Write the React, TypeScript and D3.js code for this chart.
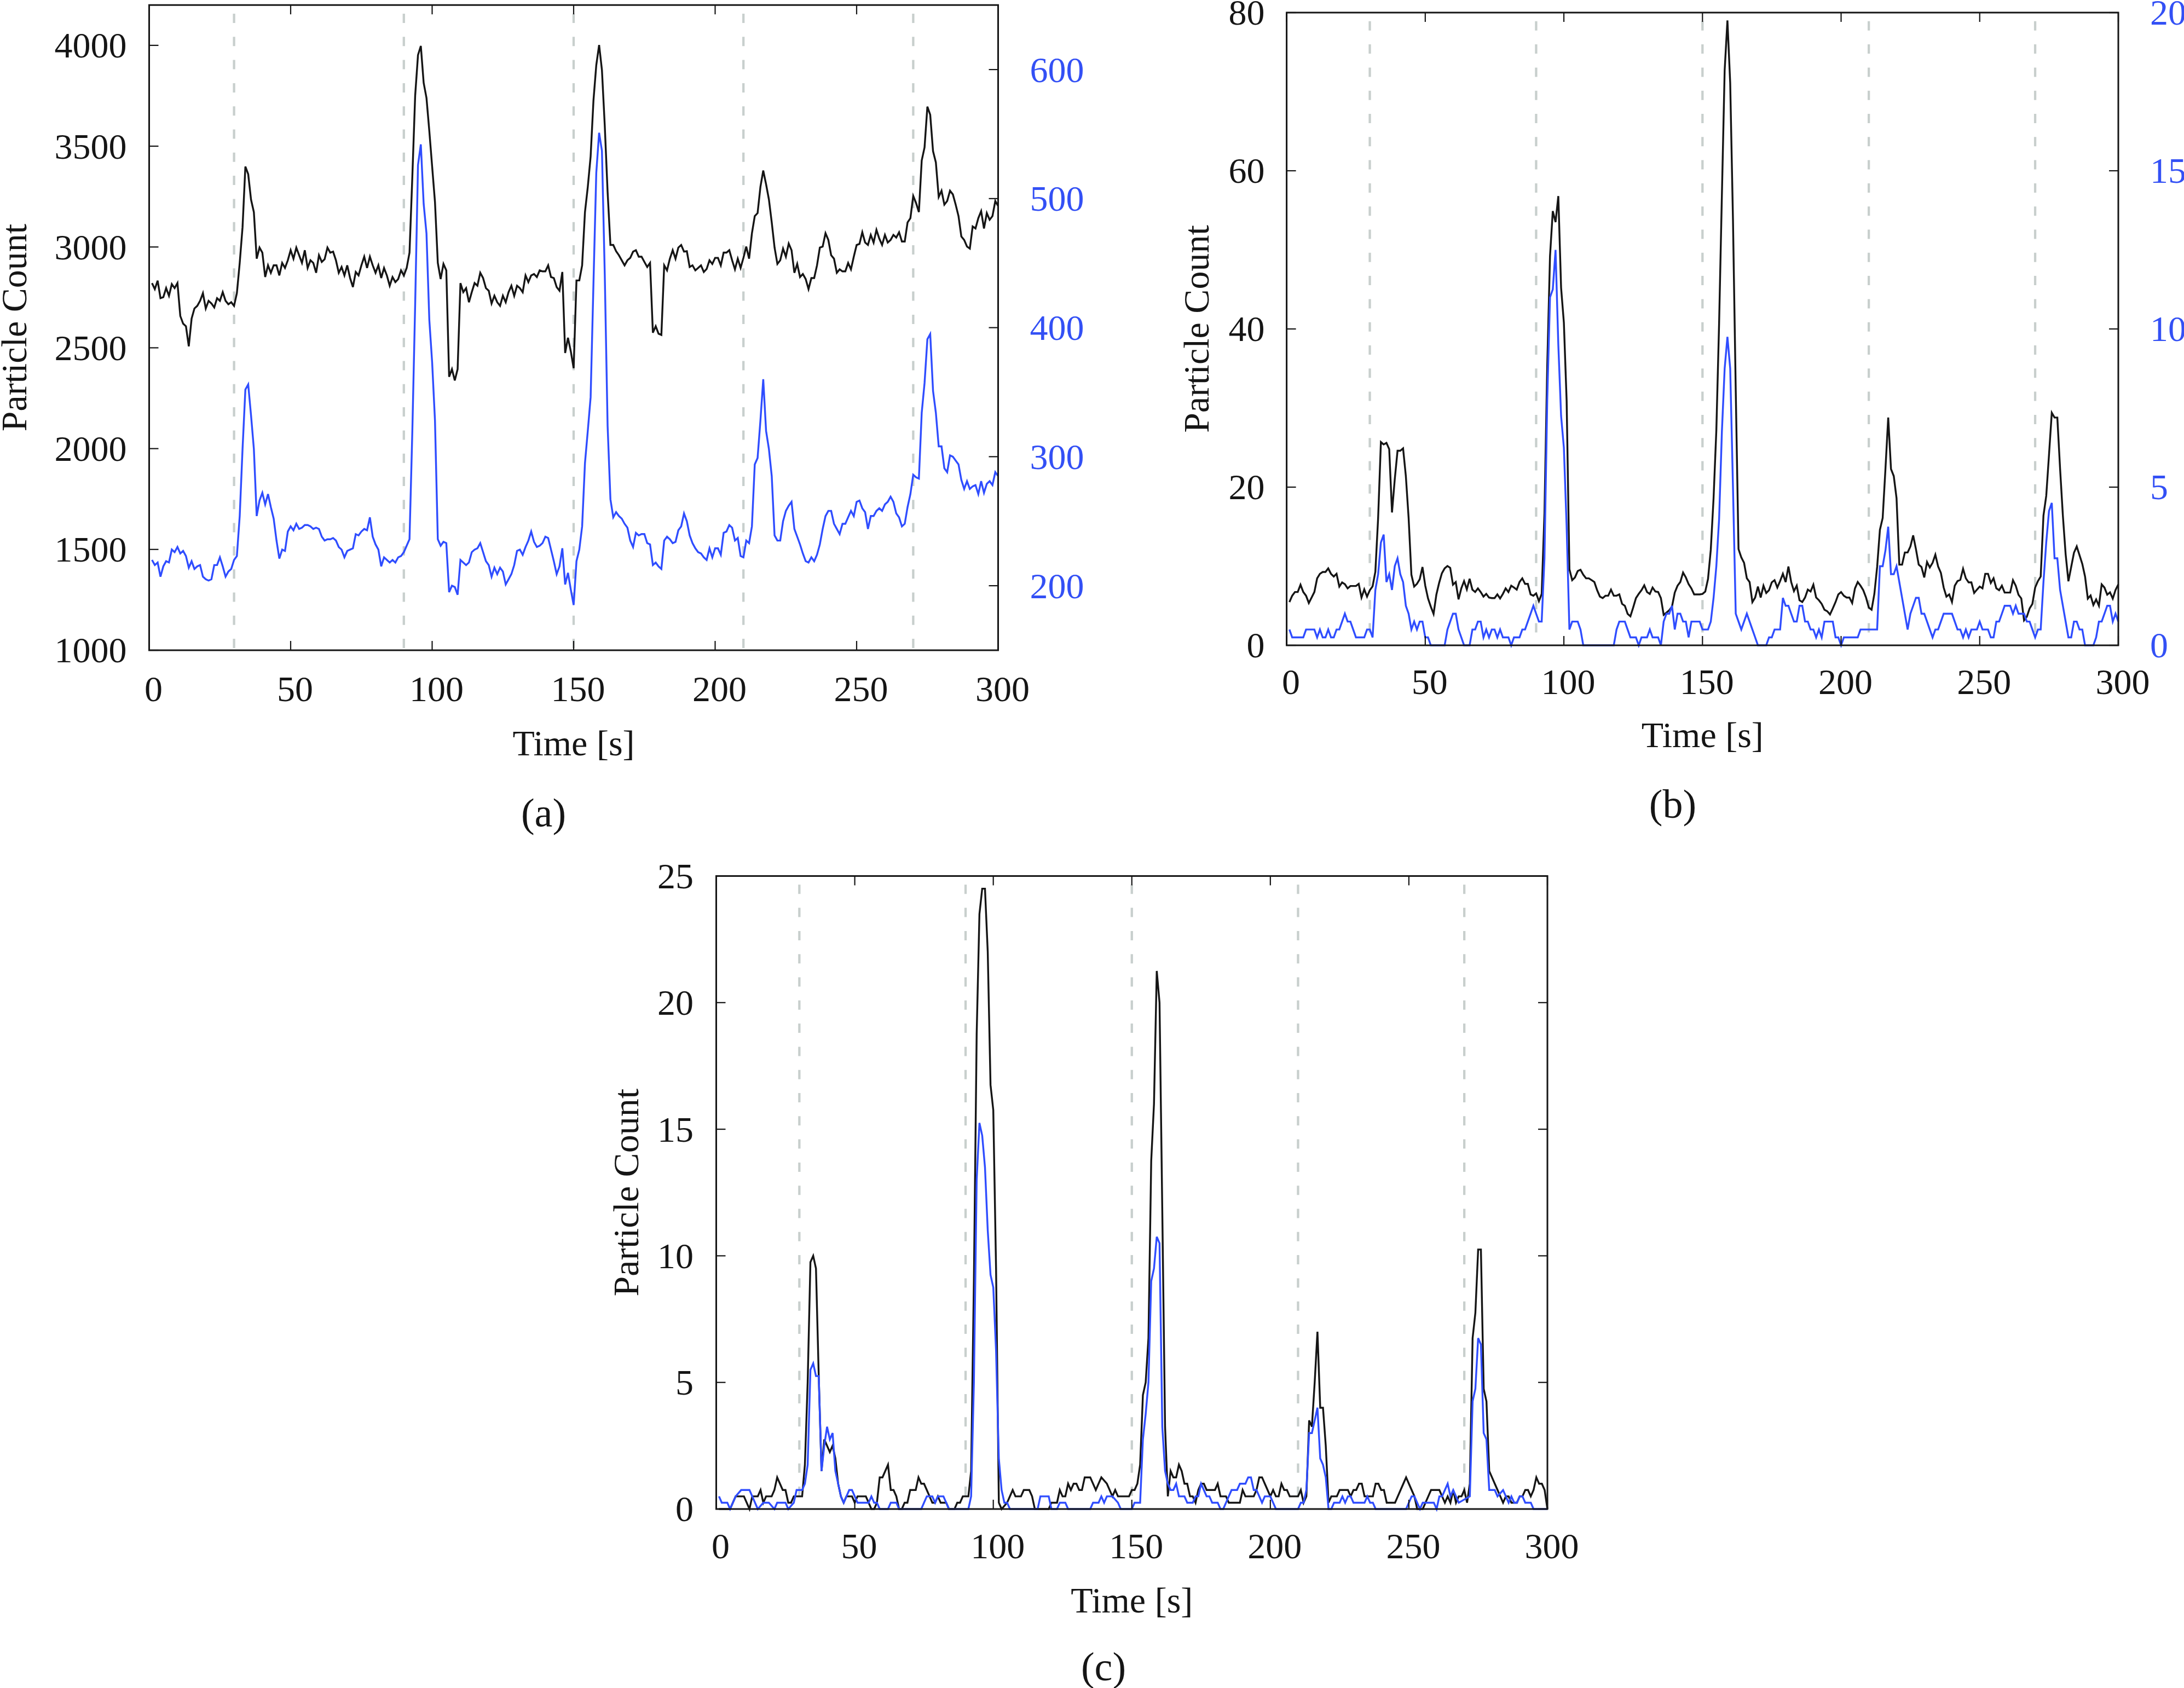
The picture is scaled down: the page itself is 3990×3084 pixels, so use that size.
import React from "react";
import * as d3 from "d3";

const W = 3990;
const H = 3084;
const BLACK = "#151515";
const BLUE = "#2f4dff";
const BLUE_TEXT = "#3350f5";
const DASH = "#c8cfcd";
const FONT = "'Liberation Serif', 'Times New Roman', Times, serif";

// ---------- shared ----------
const timeTicks = [0, 50, 100, 150, 200, 250, 300];
const stimulusTimes = [30, 90, 150, 210, 270];

// ---------- panel (a): one sample per second, t = 1..300 ----------
const aLeftTicks = [1000, 1500, 2000, 2500, 3000, 3500, 4000];
const aRightTicks = [200, 300, 400, 500, 600];
const aStart = 1;
const aBlack = [
  2821, 2791, 2833, 2746, 2751, 2796, 2758, 2816, 2796, 2821,
  2658, 2620, 2607, 2507, 2645, 2695, 2708, 2733, 2771, 2695,
  2733, 2720, 2700, 2746, 2733, 2776, 2733, 2716, 2726, 2708,
  2771, 2921, 3098, 3399, 3361, 3235, 3173, 2942, 2997, 2972,
  2851, 2909, 2872, 2909, 2909, 2859, 2921, 2896, 2934, 2984,
  2942, 2997, 2959, 2921, 2984, 2896, 2934, 2921, 2872, 2959,
  2926, 2939, 2997, 2972, 2977, 2934, 2872, 2901, 2859, 2909,
  2846, 2801, 2876, 2859, 2909, 2952, 2896, 2952, 2909, 2872,
  2909, 2846, 2896, 2859, 2808, 2851, 2826, 2841, 2884, 2859,
  2896, 2972, 3349, 3751, 3952, 3997, 3814, 3739, 3575, 3399,
  3223, 2921, 2841, 2916, 2884, 2356, 2394, 2338, 2394, 2821,
  2776, 2796, 2726, 2776, 2821, 2808, 2872, 2846, 2796, 2783,
  2720, 2758, 2726, 2708, 2758, 2726, 2776, 2808, 2758, 2808,
  2796, 2776, 2859, 2826, 2859, 2866, 2851, 2884, 2879, 2879,
  2909, 2851, 2846, 2801, 2783, 2876, 2474, 2550, 2482, 2399,
  2834, 2834, 2909, 3173, 3298, 3449, 3726, 3902, 4002, 3877,
  3601, 3273, 3010, 3010, 2979, 2959, 2934, 2909, 2934, 2946,
  2977, 2984, 2952, 2952, 2926, 2901, 2921, 2575, 2607, 2570,
  2564, 2909, 2884, 2942, 2984, 2942, 2997, 3010, 2977, 2979,
  2901, 2909, 2884, 2896, 2909, 2876, 2891, 2934, 2916, 2946,
  2946, 2909, 2972, 2972, 2984, 2934, 2889, 2942, 2896, 2946,
  3002, 2942, 3068, 3153, 3168, 3298, 3379, 3311, 3236, 3122,
  2997, 2916, 2934, 2992, 2952, 3017, 2984, 2872, 2916, 2851,
  2866, 2841, 2791, 2846, 2846, 2909, 2997, 3002, 3068, 3035,
  2959, 2942, 2872, 2889, 2879, 2879, 2921, 2889, 2952, 3010,
  3015, 3073, 3022, 3010, 3060, 3022, 3085, 3042, 3010, 3060,
  3022, 3035, 3060, 3047, 3073, 3027, 3027, 3122, 3143, 3253,
  3218, 3173, 3429, 3494, 3696, 3656, 3475, 3419, 3248, 3279,
  3210, 3228, 3279, 3261, 3210, 3153, 3052, 3035, 3002, 2992,
  3102, 3092, 3143, 3178, 3092, 3168, 3135, 3153, 3228, 3203,
];
const aBlue = [
  220, 216, 218, 207, 215, 219, 218, 228, 226, 230,
  225, 227, 223, 214, 219, 213, 215, 216, 207, 205,
  204, 205, 216, 216, 222, 215, 207, 211, 213, 220,
  223, 254, 306, 352, 356, 332, 306, 254, 266, 272,
  263, 271, 261, 252, 235, 221, 228, 227, 242, 246,
  243, 248, 244, 245, 247, 247, 246, 244, 245, 244,
  238, 235, 236, 236, 237, 235, 230, 228, 222, 227,
  228, 229, 240, 239, 242, 244, 243, 253, 238, 232,
  228, 215, 222, 220, 218, 220, 218, 222, 223, 226,
  231, 236, 320, 418, 526, 542, 496, 473, 406, 373,
  328, 236, 231, 234, 233, 195, 200, 199, 193, 220,
  218, 216, 218, 226, 228, 229, 233, 226, 219, 216,
  207, 214, 209, 214, 211, 201, 205, 209, 216, 227,
  228, 224, 230, 235, 242, 234, 230, 231, 233, 238,
  237, 228, 219, 209, 215, 229, 201, 210, 197, 185,
  219, 228, 246, 295, 320, 346, 434, 520, 551, 537,
  441, 324, 267, 253, 257, 254, 252, 248, 245, 235,
  230, 241, 239, 240, 240, 233, 232, 216, 218, 215,
  213, 235, 238, 236, 233, 234, 243, 246, 256, 250,
  239, 233, 229, 226, 225, 222, 220, 229, 222, 229,
  229, 224, 241, 242, 247, 245, 235, 237, 223, 222,
  235, 233, 246, 294, 299, 328, 360, 320, 306, 285,
  239, 235, 235, 250, 258, 262, 265, 244, 238, 232,
  225, 219, 218, 222, 219, 224, 232, 244, 254, 258,
  258, 248, 244, 240, 248, 248, 253, 258, 254, 265,
  266, 260, 257, 244, 254, 254, 258, 260, 258, 263,
  265, 269, 265, 256, 253, 246, 248, 261, 271, 286,
  284, 283, 334, 357, 391, 395, 351, 334, 308, 308,
  291, 288, 301, 300, 297, 294, 282, 275, 281, 275,
  277, 278, 271, 281, 272, 279, 281, 278, 288, 285,
];

// ---------- panel (b) ----------
const bLeftTicks = [0, 20, 40, 60, 80];
const bRightTicks = [0, 5, 10, 15, 20];
const bStart = 1;
const bBlack = [
  5.47, 6.27, 6.74, 6.74, 7.66, 6.74, 6.27, 5.35, 6.04, 6.74,
  8.47, 9.04, 9.27, 9.27, 9.73, 9.04, 8.7, 9.04, 7.43, 7.96,
  7.73, 7.2, 7.5, 7.5, 7.5, 7.77, 6.04, 7.08, 6.16, 6.97,
  7.45, 9.3, 16.1, 25.7, 25.4, 25.6, 24.8, 16.8, 21.0, 24.6,
  24.6, 24.9, 21.4, 16.1, 8.93, 7.43, 7.77, 8.35, 9.9, 7.54,
  5.93, 4.89, 3.97, 6.39, 7.89, 9.11, 9.73, 10.03, 9.8, 7.66,
  8.0, 5.81, 7.2, 8.12, 7.08, 8.42, 7.04, 6.74, 7.2, 6.74,
  6.16, 6.5, 6.04, 5.97, 5.97, 6.44, 5.93, 6.5, 7.2, 6.74,
  7.54, 7.31, 7.04, 8.0, 8.47, 7.77, 7.77, 6.44, 6.27, 6.57,
  5.58, 6.5, 16.7, 35.3, 49.2, 54.9, 53.5, 56.8, 45.2, 40.8,
  30.9, 9.62, 8.24, 8.58, 9.39, 9.55, 8.93, 8.47, 8.47, 8.24,
  8.0, 6.97, 6.16, 5.97, 6.27, 6.27, 7.04, 6.27, 6.27, 6.44,
  5.24, 5.0, 3.97, 3.67, 4.78, 5.97, 6.5, 6.97, 7.59, 6.74,
  6.5, 7.31, 6.8, 6.74, 5.97, 3.85, 4.13, 4.43, 4.89, 6.67,
  7.54, 8.0, 9.2, 8.58, 7.73, 7.2, 6.44, 6.44, 6.44, 6.5,
  6.8, 8.4, 12.1, 18.6, 27.2, 40.8, 56.9, 72.7, 79.0, 71.1,
  53.8, 32.2, 12.16, 11.12, 10.43, 8.47, 8.0, 5.47, 6.04, 7.43,
  6.04, 7.54, 6.62, 6.97, 7.96, 8.24, 7.31, 8.12, 9.04, 8.0,
  9.97, 8.0, 6.85, 7.54, 5.7, 5.47, 6.04, 7.04, 6.8, 7.66,
  6.04, 5.7, 5.24, 4.5, 4.31, 3.9, 4.66, 5.47, 6.44, 6.74,
  6.27, 6.04, 6.04, 5.35, 7.2, 8.0, 7.54, 6.97, 6.04, 4.78,
  4.5, 6.5, 9.9, 14.6, 16.1, 22.3, 28.8, 22.3, 21.4, 18.6,
  10.2, 10.2, 11.74, 11.74, 12.5, 13.9, 12.16, 10.2, 9.9, 8.58,
  10.54, 9.85, 10.43, 11.46, 9.97, 9.16, 7.31, 6.16, 6.44, 5.47,
  7.54, 8.12, 8.28, 9.67, 8.47, 7.96, 7.96, 6.62, 7.04, 7.43,
  7.2, 9.04, 9.04, 7.89, 8.47, 7.2, 6.97, 7.54, 6.67, 6.67,
  6.67, 8.24, 7.54, 6.39, 5.93, 3.16, 3.62, 4.66, 5.24, 7.31,
  8.12, 8.7, 16.4, 18.9, 24.1, 29.4, 28.8, 28.8, 22.3, 16.4,
  11.5, 8.1, 9.9, 11.7, 12.5, 11.4, 10.3, 8.7, 5.9, 6.3,
  5.1, 5.8, 5.0, 7.7, 7.3, 6.4, 6.7, 5.9, 7.0, 7.7,
];
// polyline vertices [time, count]
const bBlue: [number, number][] = [
  [1, 0.5], [2, 0.25], [6, 0.25], [7, 0.5], [10, 0.5], [11, 0.25], [12, 0.5], [13, 0.25], [14, 0.25], [15, 0.5],
  [16, 0.25], [17, 0.25], [18, 0.5], [19, 0.5], [20, 0.75], [21, 1.0], [22, 0.75], [23, 0.75], [24, 0.5], [25, 0.25],
  [28, 0.25], [29, 0.5], [30, 0.5], [31, 0.25], [32, 1.75], [33, 2.25], [34, 3.25], [35, 3.5], [36, 2.0], [37, 2.25],
  [38, 1.75], [39, 2.5], [40, 2.75], [41, 2.25], [42, 2.0], [43, 1.25], [44, 1.0], [45, 0.5], [46, 0.75], [47, 0.5],
  [48, 0.75], [49, 0.75], [50, 0.25], [51, 0.25], [52, 0], [57, 0], [58, 0.5], [59, 0.75], [60, 1.0], [61, 1.0],
  [62, 0.5], [63, 0.25], [64, 0], [66, 0], [67, 0.5], [68, 0.5], [69, 0.75], [70, 0.75], [71, 0.25], [72, 0.5],
  [73, 0.25], [74, 0.5], [75, 0.5], [76, 0.25], [77, 0.5], [78, 0.25], [80, 0.25], [81, 0], [82, 0.25], [84, 0.25],
  [85, 0.5], [86, 0.5], [87, 0.75], [88, 1.0], [89, 1.25], [90, 1.0], [91, 0.75], [92, 0.75], [93, 2.75], [94, 7.75],
  [95, 11.0], [96, 11.25], [97, 12.5], [98, 9.5], [99, 7.25], [100, 6.25], [101, 3.75], [102, 0.5], [103, 0.75], [105, 0.75],
  [106, 0.5], [107, 0], [118, 0], [119, 0.5], [120, 0.75], [122, 0.75], [123, 0.5], [124, 0.25], [126, 0.25], [127, 0],
  [128, 0.25], [130, 0.25], [131, 0.5], [132, 0.25], [134, 0.25], [135, 0], [136, 0.75], [137, 1.0], [138, 1.0], [139, 1.25],
  [140, 0.5], [141, 1.0], [142, 1.0], [143, 0.75], [144, 0.75], [145, 0.25], [146, 0.75], [149, 0.75], [150, 0.5], [152, 0.5],
  [153, 0.75], [154, 1.5], [155, 2.5], [156, 4.0], [157, 6.75], [158, 8.75], [159, 9.75], [160, 8.75], [161, 5.0], [162, 1.0],
  [163, 0.75], [164, 0.5], [165, 0.75], [166, 1.0], [167, 0.75], [168, 0.5], [169, 0.25], [170, 0], [173, 0], [174, 0.25],
  [175, 0.25], [176, 0.5], [178, 0.5], [179, 1.5], [180, 1.25], [181, 1.25], [182, 1.0], [183, 0.75], [184, 0.75], [185, 1.25],
  [186, 1.25], [187, 0.75], [188, 0.75], [189, 0.5], [190, 0.5], [191, 0.25], [192, 0.5], [193, 0.25], [194, 0.75], [197, 0.75],
  [198, 0.25], [199, 0.25], [200, 0], [201, 0.25], [206, 0.25], [207, 0.5], [213, 0.5], [214, 2.5], [215, 2.5], [216, 3.0],
  [217, 3.75], [218, 2.25], [219, 2.25], [220, 2.5], [221, 2.0], [222, 1.5], [223, 1.0], [224, 0.5], [225, 1.0], [226, 1.25],
  [227, 1.5], [228, 1.5], [229, 1.0], [230, 1.0], [231, 0.75], [232, 0.5], [233, 0.25], [234, 0.5], [235, 0.5], [236, 0.75],
  [237, 1.0], [240, 1.0], [241, 0.75], [242, 0.5], [243, 0.5], [244, 0.25], [245, 0.5], [246, 0.25], [247, 0.5], [249, 0.5],
  [250, 0.75], [251, 0.5], [253, 0.5], [254, 0.25], [255, 0.25], [256, 0.75], [257, 0.75], [258, 1.0], [259, 1.25], [261, 1.25],
  [262, 1.0], [263, 1.25], [264, 1.0], [266, 1.0], [267, 0.75], [268, 0.75], [269, 0.5], [270, 0.25], [271, 0.5], [272, 0.5],
  [273, 2.0], [274, 3.25], [275, 4.25], [276, 4.5], [277, 2.75], [278, 2.75], [279, 1.75], [280, 1.25], [281, 0.75], [282, 0.25],
  [283, 0.25], [284, 0.75], [285, 0.75], [286, 0.5], [287, 0.5], [288, 0], [291, 0], [292, 0.25], [293, 0.75], [294, 0.75],
  [295, 1.0], [296, 1.25], [297, 1.25], [298, 0.75], [299, 1.0], [300, 0.75],
];

// ---------- panel (c) ----------
const cTicks = [0, 5, 10, 15, 20, 25];
const cBlack: [number, number][] = [
  [1, 0], [5, 0], [7, 0.5], [10, 0.5], [12, 0], [13, 0.5], [15, 0.5], [16, 0.75], [17, 0.25], [18, 0.5],
  [20, 0.5], [21, 0.75], [22, 1.25], [24, 0.75], [25, 0.75], [26, 0.25], [27, 0.25], [28, 0.5], [31, 0.5], [32, 1.75],
  [33, 5.0], [34, 9.75], [35, 10.0], [36, 9.5], [37, 5.25], [38, 1.5], [39, 2.75], [40, 2.5], [41, 2.25], [42, 2.5],
  [43, 2.0], [44, 1.0], [45, 0.5], [46, 0.25], [47, 0.5], [49, 0.5], [50, 0.25], [51, 0.5], [54, 0.5], [55, 0.25],
  [56, 0], [57, 0], [58, 0.25], [59, 1.25], [60, 1.25], [62, 1.75], [63, 0.75], [64, 0.75], [65, 0.5], [66, 0],
  [67, 0], [68, 0.25], [69, 0.25], [70, 0.75], [72, 0.75], [73, 1.25], [74, 1.0], [75, 1.0], [76, 0.75], [77, 0.5],
  [78, 0.25], [79, 0.25], [80, 0.5], [81, 0.25], [83, 0.25], [84, 0], [86, 0], [87, 0.25], [88, 0.25], [89, 0.5],
  [91, 0.5], [92, 1.5], [93, 9.0], [94, 18.75], [95, 23.5], [96, 24.5], [97, 24.5], [98, 22.0], [99, 16.75], [100, 15.75],
  [101, 9.5], [102, 0.25], [103, 0], [105, 0.25], [107, 0.75], [108, 0.5], [110, 0.5], [111, 0.75], [113, 0.75], [114, 0.5],
  [115, 0], [120, 0], [121, 0.25], [123, 0.25], [124, 0.75], [125, 0.5], [126, 0.5], [127, 1.0], [128, 0.75], [129, 1.0],
  [130, 1.0], [131, 0.75], [132, 0.75], [133, 1.25], [135, 1.25], [137, 0.75], [139, 1.25], [141, 1.0], [143, 0.5], [144, 0.75],
  [145, 0.5], [149, 0.5], [150, 0.75], [151, 0.75], [152, 1.0], [153, 1.75], [154, 4.5], [155, 5.0], [156, 6.75], [157, 13.75],
  [158, 16.0], [159, 21.25], [160, 20.0], [161, 11.75], [162, 3.25], [163, 0.5], [164, 1.5], [165, 1.25], [166, 1.25], [167, 1.75],
  [168, 1.5], [169, 1.0], [170, 1.0], [171, 0.5], [172, 0.5], [173, 0.25], [174, 0.75], [175, 1.0], [176, 1.0], [177, 0.75],
  [180, 0.75], [181, 1.0], [182, 0.5], [184, 0.5], [185, 0.25], [189, 0.25], [190, 0.75], [191, 0.5], [194, 0.5], [195, 0.75],
  [196, 1.25], [197, 1.25], [198, 1.0], [199, 0.75], [200, 0.5], [201, 0.75], [202, 0.5], [203, 0.5], [204, 1.0], [205, 0.75],
  [206, 0.75], [207, 0.5], [210, 0.5], [211, 0.75], [212, 0.25], [213, 0.5], [214, 3.5], [215, 3.25], [216, 5.0], [217, 7.0],
  [218, 4.0], [219, 4.0], [220, 2.5], [221, 0.25], [222, 0.5], [224, 0.5], [225, 0.75], [228, 0.75], [229, 0.5], [230, 0.75],
  [231, 0.75], [232, 1.0], [233, 1.0], [234, 0.5], [237, 0.5], [238, 1.0], [239, 1.0], [240, 0.75], [241, 0.75], [242, 0.25],
  [245, 0.25], [246, 0.5], [247, 0.75], [248, 1.0], [249, 1.25], [250, 1.0], [251, 0.75], [252, 0.5], [253, 0], [255, 0],
  [256, 0.25], [257, 0.5], [258, 0.75], [261, 0.75], [262, 0.5], [263, 0.25], [264, 0.5], [265, 0.25], [266, 0.75], [267, 0.25],
  [268, 0.5], [269, 0.5], [270, 0.75], [271, 0.25], [272, 1.0], [273, 6.75], [274, 7.75], [275, 10.25], [276, 10.25], [277, 4.75],
  [278, 4.25], [279, 1.5], [280, 1.25], [281, 1.0], [282, 0.75], [283, 0.5], [284, 0.25], [285, 0.5], [286, 0.5], [287, 0.25],
  [289, 0.25], [290, 0.5], [291, 0.5], [292, 0.75], [293, 0.75], [294, 0.5], [295, 0.75], [296, 1.25], [297, 1.0], [298, 1.0],
  [299, 0.75], [300, 0],
];
const cBlue: [number, number][] = [
  [1, 0.5], [2, 0.25], [4, 0.25], [5, 0], [7, 0.5], [9, 0.75], [12, 0.75], [13, 0.5], [15, 0], [17, 0.25],
  [19, 0.25], [21, 0], [22, 0.25], [25, 0.25], [26, 0], [28, 0.25], [29, 0.75], [31, 0.75], [32, 1.0], [33, 1.75],
  [34, 5.5], [35, 5.75], [36, 5.25], [37, 5.25], [38, 1.5], [39, 2.5], [40, 3.25], [41, 2.75], [42, 3.0], [43, 1.5],
  [44, 1.0], [45, 0.5], [46, 0.25], [47, 0.5], [48, 0.75], [49, 0.75], [50, 0.5], [51, 0.25], [55, 0.25], [56, 0.5],
  [57, 0.25], [58, 0.25], [59, 0], [62, 0], [63, 0.25], [65, 0.25], [66, 0], [74, 0], [76, 0.5], [78, 0.5],
  [79, 0.25], [80, 0.5], [82, 0.5], [83, 0.25], [84, 0], [91, 0], [92, 0.5], [93, 5.0], [94, 13.0], [95, 15.25],
  [96, 14.75], [97, 13.5], [98, 11.0], [99, 9.25], [100, 8.75], [101, 6.25], [102, 2.0], [103, 0.75], [104, 0.25], [105, 0.25],
  [106, 0], [116, 0], [117, 0.5], [120, 0.5], [121, 0], [123, 0], [124, 0.25], [126, 0.25], [127, 0], [135, 0],
  [136, 0.25], [138, 0.25], [139, 0.5], [140, 0.25], [141, 0.5], [143, 0.5], [145, 0.25], [146, 0], [150, 0], [151, 0.25],
  [153, 0.25], [154, 2.75], [155, 3.75], [156, 5.0], [157, 9.0], [158, 9.5], [159, 10.75], [160, 10.5], [161, 3.25], [162, 1.5],
  [163, 1.0], [164, 0.75], [165, 0.75], [166, 1.0], [167, 0.5], [169, 0.5], [170, 0.25], [172, 0.25], [173, 0.5], [174, 0.5],
  [175, 1.0], [176, 0.75], [177, 0.5], [178, 0.5], [179, 0.25], [181, 0.25], [182, 0], [183, 0], [184, 0.25], [185, 0.5],
  [186, 0.75], [188, 0.75], [189, 1.0], [191, 1.0], [192, 1.25], [193, 1.25], [194, 0.75], [195, 0.75], [196, 0.5], [197, 0.25],
  [198, 0.5], [200, 0.5], [201, 0.25], [202, 0], [210, 0], [211, 0.25], [212, 0.25], [213, 0.75], [214, 3.0], [215, 3.0],
  [216, 3.5], [217, 4.0], [218, 2.0], [219, 1.75], [220, 1.25], [221, 0], [222, 0], [223, 0.25], [225, 0.25], [226, 0.5],
  [227, 0.25], [228, 0.5], [229, 0.5], [230, 0.25], [234, 0.25], [235, 0.5], [236, 0.25], [237, 0.25], [238, 0], [249, 0],
  [250, 0.25], [251, 0.5], [252, 0.5], [253, 0.25], [254, 0], [255, 0.25], [259, 0.25], [260, 0], [261, 0.5], [262, 0.5],
  [263, 0.75], [264, 1.0], [265, 0.5], [266, 0.75], [267, 0.5], [268, 0.25], [272, 0.5], [273, 4.25], [274, 4.75], [275, 6.75],
  [276, 6.5], [277, 3.0], [278, 2.75], [279, 0.75], [281, 0.75], [282, 0.5], [284, 0.75], [285, 0.5], [286, 0.25], [287, 0.5],
  [288, 0.25], [289, 0.25], [290, 0.5], [291, 0.5], [292, 0.25], [294, 0.25], [295, 0], [300, 0],
];

const toPairs = (start: number, vals: number[]): [number, number][] =>
  vals.map((v, i) => [start + i, v] as [number, number]);

type SeriesDef = { pts: [number, number][]; color: string; axis: "left" | "right" };

type PanelDef = {
  x0: number; x1: number; yTop: number; yBot: number;
  leftDomain: [number, number]; leftTicks: number[];
  rightDomain?: [number, number]; rightTicks?: number[];
  mirrorLeft?: boolean;
  series: SeriesDef[];
  leftGap: number; rightGap: number;
  xLabelBase: number; titleBase: number; ylabelX: number;
  caption: string; capX: number; capBase: number;
  dashOffset: number;
};

const FS = 66;
const CAP_FS = 74;
const TICK = 17;

function Panel({ p }: { p: PanelDef }) {
  const x = d3.scaleLinear().domain([0, 300]).range([p.x0, p.x1]);
  const yL = d3.scaleLinear().domain(p.leftDomain).range([p.yBot, p.yTop]);
  const yR = p.rightDomain ? d3.scaleLinear().domain(p.rightDomain).range([p.yBot, p.yTop]) : null;
  const cx = (p.x0 + p.x1) / 2;
  const cy = (p.yTop + p.yBot) / 2;
  return (
    <g>
      {stimulusTimes.map((t) => (
        <line key={"d" + t} x1={x(t)} x2={x(t)} y1={p.yTop} y2={p.yBot}
          stroke={DASH} strokeWidth={4.3} strokeDasharray="17 25.3" strokeDashoffset={p.dashOffset} />
      ))}
      {p.series.map((s, i) => {
        const ys = s.axis === "left" ? yL : (yR as d3.ScaleLinear<number, number>);
        const gen = d3.line<[number, number]>().x((d) => x(d[0])).y((d) => ys(d[1]));
        return (
          <path key={"s" + i} d={gen(s.pts) || ""} fill="none" stroke={s.color}
            strokeWidth={3.4} strokeLinejoin="miter" strokeMiterlimit={4} />
        );
      })}
      <rect x={p.x0} y={p.yTop} width={p.x1 - p.x0} height={p.yBot - p.yTop}
        fill="none" stroke={BLACK} strokeWidth={3} />
      {/* x ticks bottom & top */}
      {timeTicks.map((t) => (
        <g key={"xt" + t}>
          <line x1={x(t)} x2={x(t)} y1={p.yBot} y2={p.yBot - TICK} stroke={BLACK} strokeWidth={2.2} />
          <line x1={x(t)} x2={x(t)} y1={p.yTop} y2={p.yTop + TICK} stroke={BLACK} strokeWidth={2.2} />
          <text x={x(t) + 8} y={p.xLabelBase} fontSize={FS} fontFamily={FONT} textAnchor="middle" fill={BLACK}>{t}</text>
        </g>
      ))}
      {/* left ticks */}
      {p.leftTicks.map((v) => (
        <g key={"yl" + v}>
          <line x1={p.x0} x2={p.x0 + TICK} y1={yL(v)} y2={yL(v)} stroke={BLACK} strokeWidth={2.2} />
          {p.mirrorLeft && (
            <line x1={p.x1} x2={p.x1 - TICK} y1={yL(v)} y2={yL(v)} stroke={BLACK} strokeWidth={2.2} />
          )}
          <text x={p.x0 - p.leftGap} y={yL(v) + FS * 0.34} fontSize={FS} fontFamily={FONT}
            textAnchor="end" fill={BLACK}>{v}</text>
        </g>
      ))}
      {/* right ticks */}
      {yR && p.rightTicks && p.rightTicks.map((v) => (
        <g key={"yr" + v}>
          <line x1={p.x1} x2={p.x1 - TICK} y1={yR(v)} y2={yR(v)} stroke={BLACK} strokeWidth={2.2} />
          <text x={p.x1 + p.rightGap} y={yR(v) + FS * 0.34} fontSize={FS} fontFamily={FONT}
            textAnchor="start" fill={BLUE_TEXT}>{v}</text>
        </g>
      ))}
      <text x={cx} y={p.titleBase} fontSize={FS} fontFamily={FONT} textAnchor="middle" fill={BLACK}>Time [s]</text>
      <text transform={`translate(${p.ylabelX},${cy}) rotate(-90)`} fontSize={FS} fontFamily={FONT}
        textAnchor="middle" fill={BLACK}>Particle Count</text>
      <text x={p.capX} y={p.capBase} fontSize={CAP_FS} fontFamily={FONT} textAnchor="middle" fill={BLACK}>{p.caption}</text>
    </g>
  );
}

const panels: PanelDef[] = [
  {
    x0: 272.5, x1: 1823.5, yTop: 9.2, yBot: 1188,
    leftDomain: [1000, 4200], leftTicks: aLeftTicks,
    rightDomain: [150, 650], rightTicks: aRightTicks,
    series: [
      { pts: toPairs(aStart, aBlack), color: BLACK, axis: "left" },
      { pts: toPairs(aStart, aBlue), color: BLUE, axis: "right" },
    ],
    leftGap: 41, rightGap: 58, xLabelBase: 1281, titleBase: 1380, ylabelX: 48,
    caption: "(a)", capX: 993, capBase: 1510, dashOffset: 26.5,
  },
  {
    x0: 2350.6, x1: 3870, yTop: 23, yBot: 1179,
    leftDomain: [0, 80], leftTicks: bLeftTicks,
    rightDomain: [0, 20], rightTicks: bRightTicks,
    series: [
      { pts: toPairs(bStart, bBlack), color: BLACK, axis: "left" },
      { pts: bBlue, color: BLUE, axis: "right" },
    ],
    leftGap: 40, rightGap: 58, xLabelBase: 1268, titleBase: 1365, ylabelX: 2208,
    caption: "(b)", capX: 3056, capBase: 1494, dashOffset: 26.5,
  },
  {
    x0: 1308.5, x1: 2827, yTop: 1600.5, yBot: 2757,
    leftDomain: [0, 25], leftTicks: cTicks, mirrorLeft: true,
    series: [
      { pts: cBlack, color: BLACK, axis: "left" },
      { pts: cBlue, color: BLUE, axis: "left" },
    ],
    leftGap: 41.5, rightGap: 58, xLabelBase: 2847, titleBase: 2946, ylabelX: 1166,
    caption: "(c)", capX: 2016, capBase: 3070, dashOffset: 26.5,
  },
];

export default function App() {
  return (
    <svg width={W} height={H} viewBox={`0 0 ${W} ${H}`}
      style={{ position: "fixed", left: 0, top: 0, background: "#ffffff" }}>
      <rect x={0} y={0} width={W} height={H} fill="#ffffff" />
      {panels.map((p, i) => <Panel key={i} p={p} />)}
    </svg>
  );
}
